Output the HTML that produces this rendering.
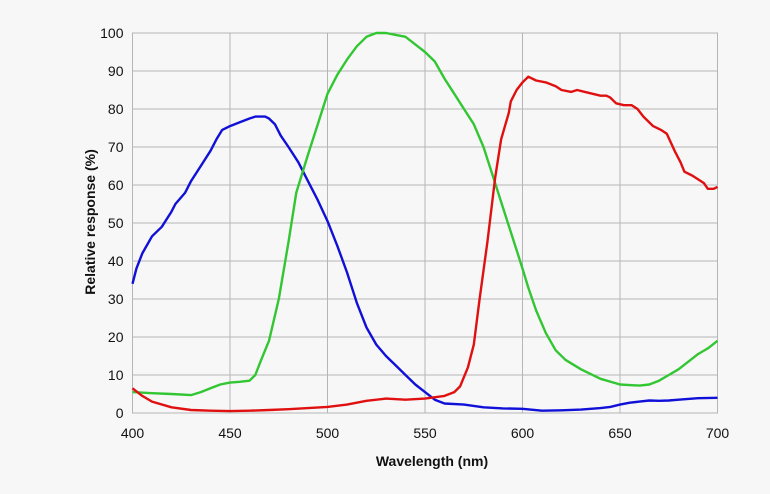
<!DOCTYPE html>
<html><head><meta charset="utf-8"><style>
body{margin:0;background:#f7f7f7;}
svg{display:block;font-family:"Liberation Sans",sans-serif;}
</style></head><body>
<svg width="770" height="494">
<rect x="0" y="0" width="770" height="494" fill="#f7f7f7"/>
<g id="grid"></g>
<g id="series"></g>
<g id="ticks"></g>
<text x="432" y="466" text-anchor="middle" font-size="14" font-weight="bold" fill="#111">Wavelength (nm)</text>
<text transform="translate(95,222) rotate(-90)" text-anchor="middle" font-size="14" font-weight="bold" fill="#111">Relative response (%)</text>
</svg>
<script>
const xTicks=[400,450,500,550,600,650,700];
const yTicks=[0,10,20,30,40,50,60,70,80,90,100];
const blueX=[400,402,405,410,415,420,422,427,430,435,440,443,446,450,455,460,463,468,470,473,476,480,485,490,495,500,505,510,515,520,525,530,535,540,545,550,555,560,570,580,590,600,610,620,630,640,645,650,655,660,665,670,675,680,690,700];
const blueY=[34,38,42,46.5,49,53,55,58,61,65,69,72,74.5,75.5,76.5,77.5,78,78,77.5,76,73,70,66,61,56,50.5,44,37,29,22.5,18,15,12.5,10,7.5,5.5,3.5,2.5,2.2,1.5,1.2,1.1,0.6,0.7,0.9,1.3,1.6,2.2,2.7,3,3.3,3.2,3.3,3.5,3.9,4];
const greenX=[400,410,420,430,435,440,445,450,455,460,463,466,470,475,480,484,490,495,500,505,510,515,520,525,530,535,540,545,550,555,560,565,570,575,580,585,590,595,600,603,607,612,617,622,630,640,650,660,665,670,675,680,685,690,695,700];
const greenY=[5.5,5.2,5,4.7,5.5,6.5,7.5,8,8.2,8.5,10,14,19,30,45,58,68,76,84,89,93,96.5,99,100,100,99.5,99,97,95,92.5,88,84,80,76,70,62,54,46,38,33,27,21,16.5,14,11.5,9,7.5,7.2,7.5,8.5,10,11.5,13.5,15.5,17,19];
const redX=[400,405,410,420,430,440,450,460,470,480,490,500,510,520,530,540,550,560,565,568,572,575,578,582,586,589,593,594,597,600,603,607,612,617,620,625,628,632,636,640,643,645,648,652,656,659,662,667,671,674,678,681,683,687,690,693,695,698,700];
const redY=[6.5,4.5,3,1.5,0.8,0.6,0.5,0.6,0.8,1,1.3,1.6,2.2,3.2,3.8,3.5,3.8,4.5,5.5,7,12,18,30,45,62,72,79,82,85,87,88.5,87.5,87,86,85,84.5,85,84.5,84,83.5,83.5,83,81.5,81,81,80,78,75.5,74.5,73.5,69,66,63.5,62.5,61.5,60.5,59,59,59.5];
const L=132.5,R=717.5,T=33,B=413;
const sx=v=>L+(v-400)/300*(R-L);
const sy=v=>B-v/100*(B-T);
const NS="http://www.w3.org/2000/svg";
const grid=document.getElementById('grid'),ticks=document.getElementById('ticks'),ser=document.getElementById('series');
function mk(tag,attrs,parent){const e=document.createElementNS(NS,tag);for(const k in attrs)e.setAttribute(k,attrs[k]);parent.appendChild(e);return e;}
const frame=mk('rect',{x:L,y:T,width:R-L,height:B-T,fill:'#f7f7f7',stroke:'#b5b5b5','stroke-width':1},grid);


xTicks.forEach(v=>{
 const l=mk('line',{x1:sx(v),x2:sx(v),y1:T,y2:B,stroke:'#b5b5b5','stroke-width':1},grid);
 
 
 const t=mk('text',{x:sx(v),y:B+25,'text-anchor':'middle','font-size':14,fill:'#111'},ticks);
 t.textContent=v;
 
 
});
yTicks.forEach(v=>{
 const l=mk('line',{x1:L,x2:R,y1:sy(v),y2:sy(v),stroke:'#b5b5b5','stroke-width':1},grid);
 
 
 const t=mk('text',{x:L-9,y:sy(v)+5,'text-anchor':'end','font-size':14,fill:'#111'},ticks);
 t.textContent=v;
 
 
});
function line(xs,ys,color,name){
 const d=xs.map((x,i)=>(i?'L':'M')+sx(x).toFixed(1)+','+sy(ys[i]).toFixed(1)).join('');
 const p=mk('path',{d:d,fill:'none',stroke:color,'stroke-width':2.4,'stroke-linejoin':'round'},ser);
 
 
}
line(blueX,blueY,'#1010d8','blue-curve');
line(greenX,greenY,'#33c633','green-curve');
line(redX,redY,'#e01010','red-curve');
</script>
</body></html>
